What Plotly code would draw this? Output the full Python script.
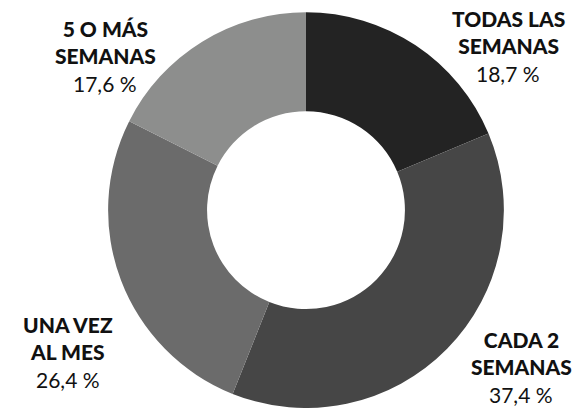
import plotly.graph_objects as go

categories = ["TODAS LAS<br>SEMANAS", "CADA 2<br>SEMANAS", "UNA VEZ<br>AL MES", "5 O MÁS<br>SEMANAS"]
values = [18.7, 37.4, 26.4, 17.6]
value_labels = ["18,7 %", "37,4 %", "26,4 %", "17,6 %"]
colors = ["#232323", "#464646", "#6b6b6b", "#8d8e8d"]

W, H = 584, 408
FS = 21
LH = FS * 1.3

fig = go.Figure(go.Pie(
    labels=[c.replace("<br>", " ") for c in categories],
    values=values,
    sort=False,
    direction="clockwise",
    rotation=0,
    hole=0.5,
    textinfo="none",
    hoverinfo="label+value",
    marker=dict(colors=colors, line=dict(width=0)),
    domain=dict(x=[108 / W, 504 / W], y=[0, 0.97]),
    showlegend=False,
))

# label positions in pixels (center of 3-line text block)
label_pos = [(508, 46), (521, 367), (68, 352), (105, 56)]
for cat, vl, (px, py) in zip(categories, value_labels, label_pos):
    fig.add_annotation(
        x=px / W, y=1 - (py - LH / 2) / H, xref="paper", yref="paper",
        text=cat,
        showarrow=False, xanchor="center", yanchor="middle", align="center",
        font=dict(family="Lato", size=FS, color="#111111", weight=900),
    )
    fig.add_annotation(
        x=px / W, y=1 - (py + LH) / H, xref="paper", yref="paper",
        text=vl,
        showarrow=False, xanchor="center", yanchor="middle", align="center",
        font=dict(family="Lato", size=FS, color="#111111", weight=400),
    )

fig.update_layout(
    width=W, height=H,
    margin=dict(l=0, r=0, t=0, b=0),
    paper_bgcolor="white", plot_bgcolor="white",
)

fig.write_html("out.html", config={"displayModeBar": False},
               post_script="document.body.style.margin='0px';")
